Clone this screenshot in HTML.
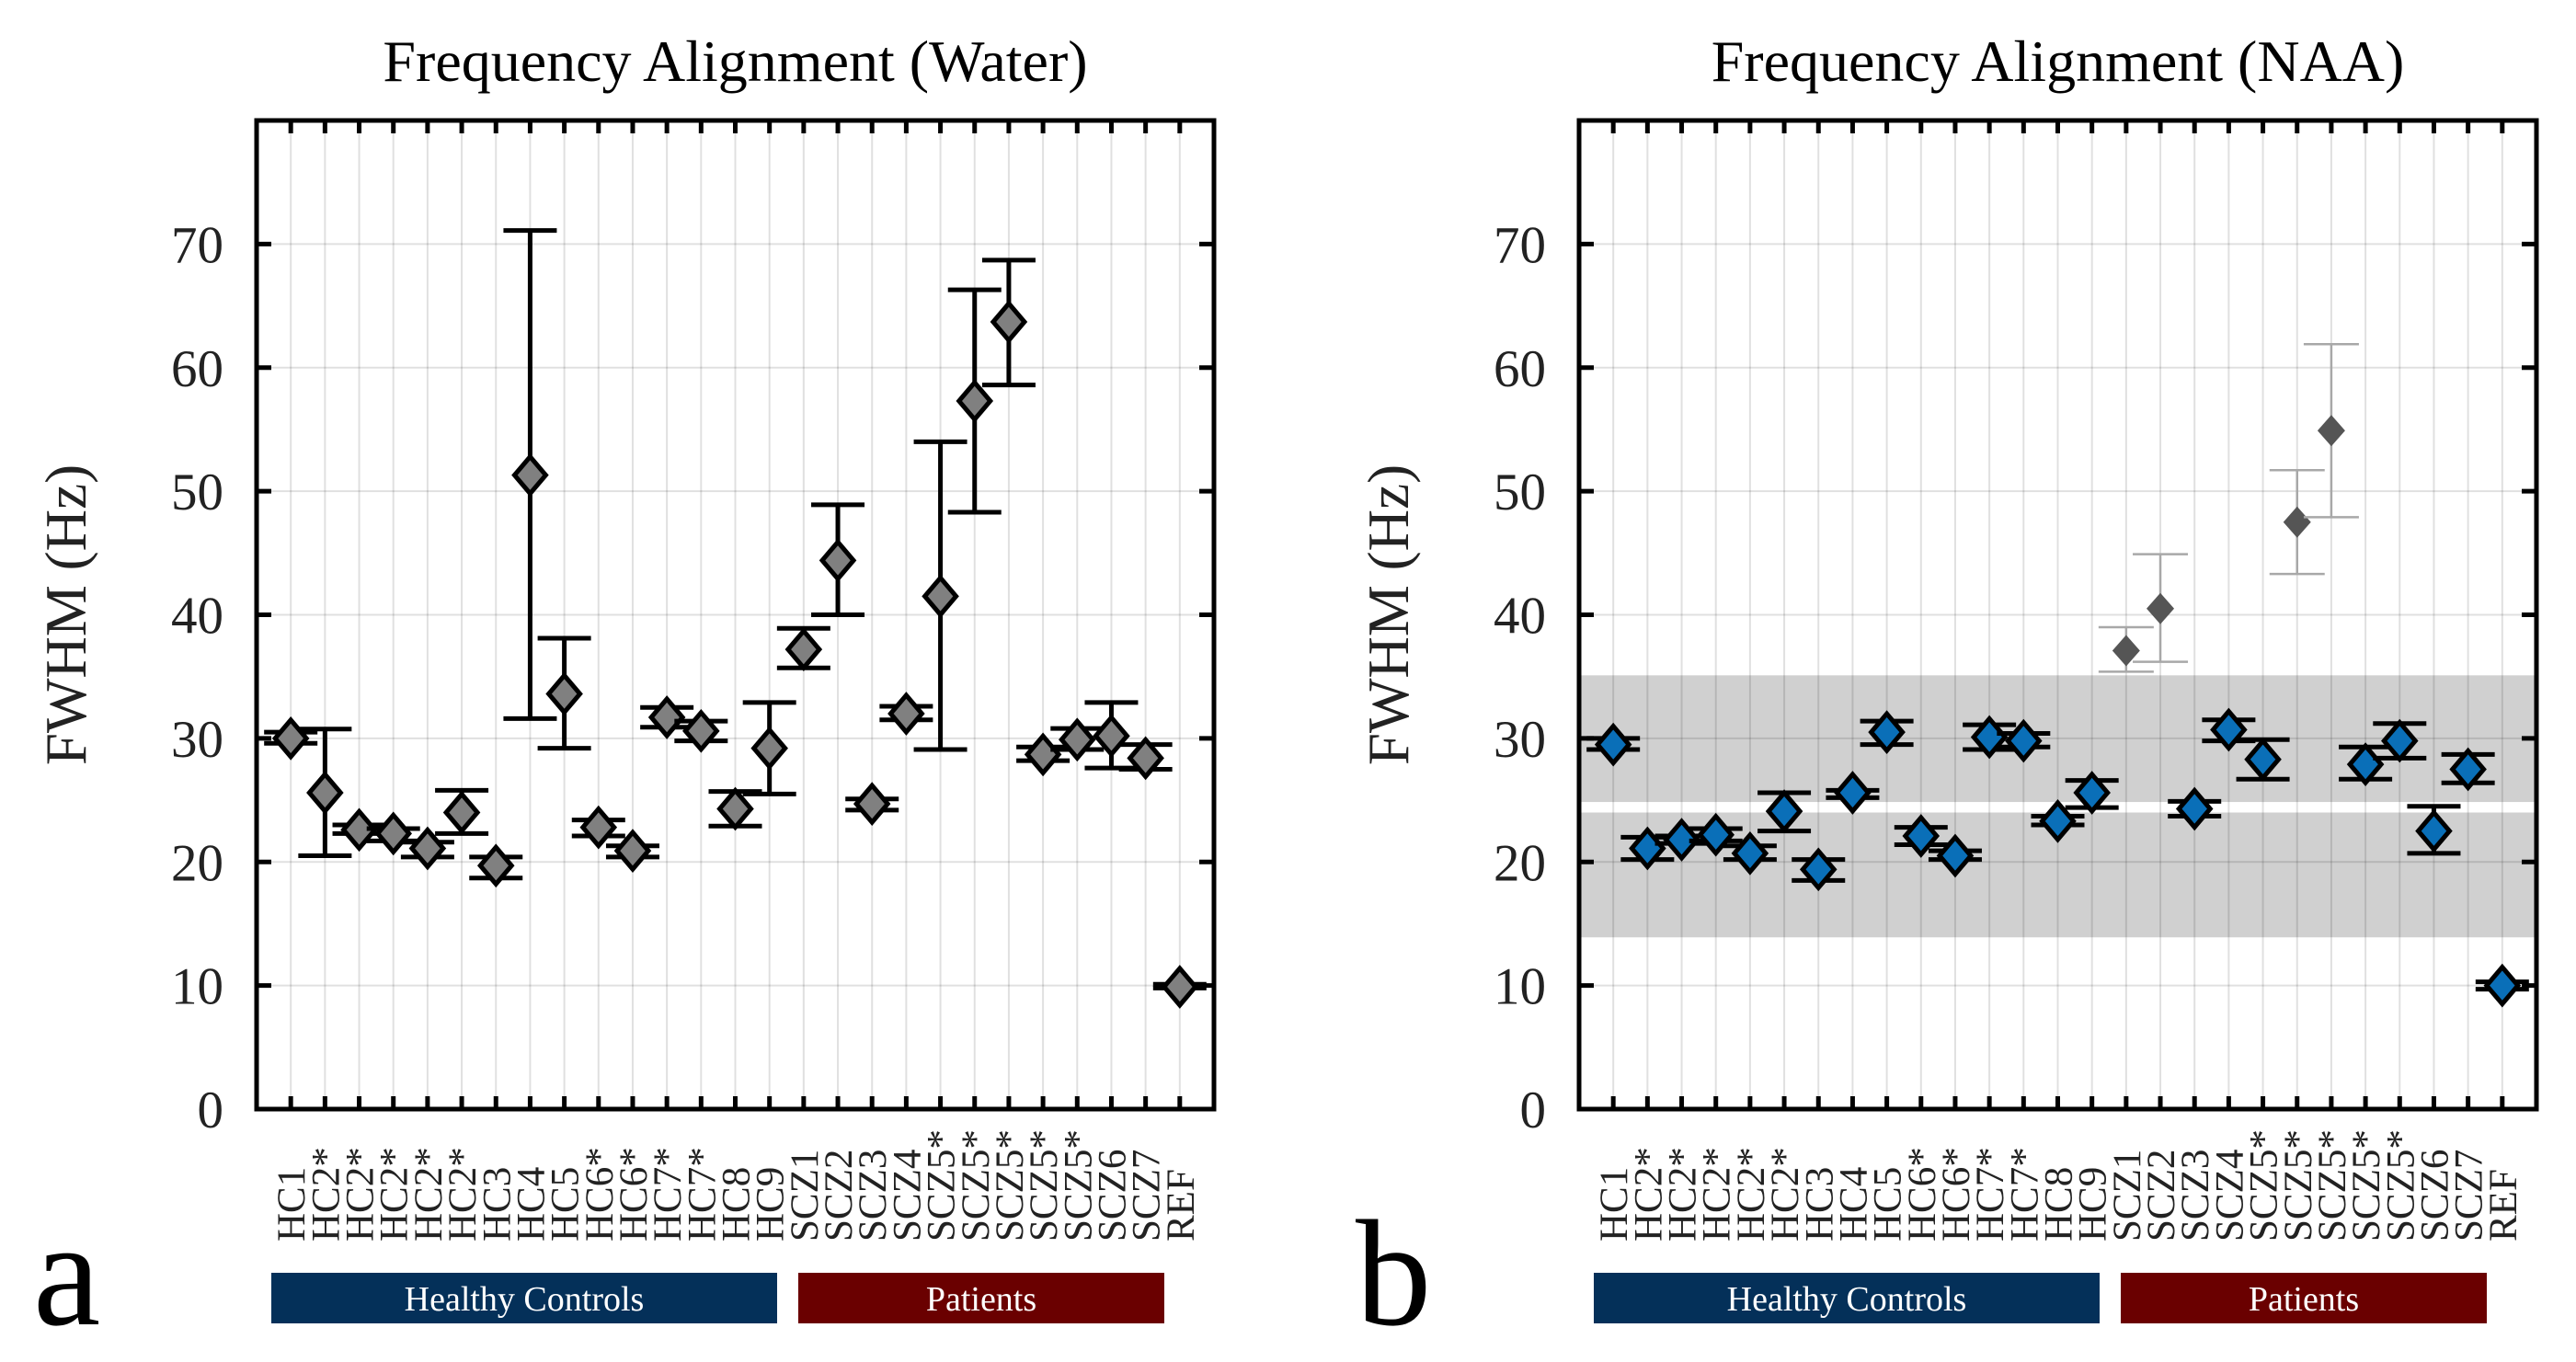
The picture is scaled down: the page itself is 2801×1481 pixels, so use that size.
<!DOCTYPE html>
<html><head><meta charset="utf-8">
<style>
html,body{margin:0;padding:0;background:#fff;}
svg{display:block;font-family:"Liberation Serif","Times New Roman",serif;}
</style></head>
<body>
<svg id="chart" width="2801" height="1481" viewBox="0 0 2801 1481" xmlns="http://www.w3.org/2000/svg"></svg>
<script>
const categories = ["HC1","HC2*","HC2*","HC2*","HC2*","HC2*","HC3","HC4","HC5","HC6*","HC6*","HC7*","HC7*","HC8","HC9","SCZ1","SCZ2","SCZ3","SCZ4","SCZ5*","SCZ5*","SCZ5*","SCZ5*","SCZ5*","SCZ6","SCZ7","REF"];
const yTicks = [0,10,20,30,40,50,60,70];
const waterMean = [30.0,25.6,22.6,22.3,21.1,24.0,19.7,51.3,33.6,22.8,20.9,31.7,30.6,24.3,29.2,37.2,44.4,24.7,32.0,41.5,57.3,63.7,28.7,29.9,30.2,28.4,9.9];
const waterHi = [30.5,30.75,23.0,22.7,21.6,25.8,20.4,71.1,38.1,23.4,21.3,32.5,31.4,25.7,32.9,38.9,48.9,25.1,32.6,54.0,66.3,68.7,29.3,30.8,32.9,29.5,10.1];
const waterLo = [29.6,20.5,22.3,21.7,20.4,22.3,18.7,31.6,29.2,22.1,20.4,30.9,29.8,22.9,25.5,35.7,40.0,24.2,31.5,29.1,48.3,58.6,28.2,29.1,27.6,27.5,9.8];
const naaMean = [29.5,21.1,21.8,22.2,20.7,24.1,19.4,25.6,30.5,22.1,20.5,30.1,29.8,23.3,25.6,37.1,40.5,24.3,30.7,28.3,47.5,54.9,27.9,29.8,22.5,27.5,10.0];
const naaHi = [30.0,22.0,22.1,22.7,21.3,25.6,20.2,25.8,31.4,22.8,20.9,31.1,30.4,23.7,26.6,39.0,44.9,24.9,31.5,29.9,51.7,61.9,29.3,31.2,24.5,28.7,10.3];
const naaLo = [29.1,20.2,21.5,21.7,20.2,22.5,18.5,25.2,29.5,21.4,20.2,29.1,29.3,23.0,24.4,35.4,36.2,23.7,29.8,26.7,43.3,47.9,26.7,28.4,20.7,26.4,9.7];
const naaOutlier = [0,0,0,0,0,0,0,0,0,0,0,0,0,0,0,1,1,0,0,0,1,1,0,0,0,0,0];
const bandUpper = [24.85,35.1];
const bandLower = [13.9,24.0];

const NS="http://www.w3.org/2000/svg";
const svg=document.getElementById('chart');
function el(tag,attrs,parent){const e=document.createElementNS(NS,tag);for(const k in attrs)e.setAttribute(k,attrs[k]);(parent||svg).appendChild(e);return e;}

function panel(opt){
  const L=opt.left,R=opt.left+1041,T=131,B=1206;
  const g=el('g',{});
  
  
  const xS=i=>L+(R-L)*(i+1)/28;
  const yS=v=>B-(B-T)*v/80;
  if(opt.bands){
    [bandUpper,bandLower].forEach((b,k)=>{
      const r=el('rect',{x:L,y:yS(b[1]),width:R-L,height:yS(b[0])-yS(b[1]),fill:'#d0d0d0'},g);
      
      
    });
  }
  yTicks.forEach(v=>{const l=el('line',{x1:L,x2:R,y1:yS(v),y2:yS(v),stroke:'#000','stroke-opacity':0.12,'stroke-width':2},g);
    });
  categories.forEach((c,i)=>{const l=el('line',{x1:xS(i),x2:xS(i),y1:T,y2:B,stroke:'#000','stroke-opacity':0.12,'stroke-width':2},g);
    });
  categories.forEach((c,i)=>{
    const out=opt.outlier&&opt.outlier[i];
    const col=out?'#a8a8a8':'#000', sw=out?2.5:5, cw=out?30:29;
    const x=xS(i);
    const eg=el('g',{},g);
    
    
    el('line',{x1:x,x2:x,y1:yS(opt.hi[i]),y2:yS(opt.lo[i]),stroke:col,'stroke-width':sw},eg);
    el('line',{x1:x-cw,x2:x+cw,y1:yS(opt.hi[i]),y2:yS(opt.hi[i]),stroke:col,'stroke-width':sw},eg);
    el('line',{x1:x-cw,x2:x+cw,y1:yS(opt.lo[i]),y2:yS(opt.lo[i]),stroke:col,'stroke-width':sw},eg);
    const y=yS(opt.mean[i]);
    const hw=out?15:17, hh=out?17:20;
    const d=el('polygon',{points:`${x},${y-hh} ${x+hw},${y} ${x},${y+hh} ${x-hw},${y}`,
      fill:out?'#555':opt.fill,stroke:out?'none':'#000','stroke-width':5,'stroke-linejoin':'miter'},g);
    
    
  });
  const fr=el('rect',{x:L,y:T,width:R-L,height:B-T,fill:'none',stroke:'#000','stroke-width':5},g);
  
  categories.forEach((c,i)=>{
    el('line',{x1:xS(i),x2:xS(i),y1:B,y2:B-14,stroke:'#000','stroke-width':5},g);
    el('line',{x1:xS(i),x2:xS(i),y1:T,y2:T+14,stroke:'#000','stroke-width':5},g);
    const t=el('text',{x:0,y:0,transform:`translate(${xS(i)+15},1350) rotate(-90)`,'font-size':43,fill:'#222','text-anchor':'start'},g);
    t.textContent=c;
    
  });
  yTicks.forEach(v=>{
    el('line',{x1:L,x2:L+16,y1:yS(v),y2:yS(v),stroke:'#000','stroke-width':5},g);
    el('line',{x1:R,x2:R-16,y1:yS(v),y2:yS(v),stroke:'#000','stroke-width':5},g);
    const t=el('text',{x:L-36,y:yS(v)+20,'font-size':57,fill:'#222','text-anchor':'end'},g);
    t.textContent=v;
    
  });
  const tt=el('text',{x:(L+R)/2,y:88,'font-size':64,fill:'#000','text-anchor':'middle'},g);
  tt.textContent=opt.title;
  const yt=el('text',{x:0,y:0,transform:`translate(${L-186},${(T+B)/2}) rotate(-90)`,'font-size':63,fill:'#222','text-anchor':'middle'},g);
  yt.textContent='FWHM (Hz)';
  const pl=el('text',{x:L-243,y:1440,'font-size':165,fill:'#000'},g);
  pl.textContent=opt.letter;
  const hb=el('rect',{x:L+16,y:1384,width:550,height:55,fill:'#043059'},g);
  
  const ht=el('text',{x:L+16+275,y:1425,'font-size':38,fill:'#fff','text-anchor':'middle'},g);
  ht.textContent='Healthy Controls';
  const pb=el('rect',{x:L+589,y:1384,width:398,height:55,fill:'#6a0000'},g);
  
  const pt=el('text',{x:L+589+199,y:1425,'font-size':38,fill:'#fff','text-anchor':'middle'},g);
  pt.textContent='Patients';
}
panel({name:'panel-a-water',left:279,title:'Frequency Alignment (Water)',letter:'a',mean:waterMean,hi:waterHi,lo:waterLo,fill:'#808080'});
panel({name:'panel-b-naa',left:1717,title:'Frequency Alignment (NAA)',letter:'b',mean:naaMean,hi:naaHi,lo:naaLo,fill:'#0a6fb8',outlier:naaOutlier,bands:true});
</script>
</body></html>
